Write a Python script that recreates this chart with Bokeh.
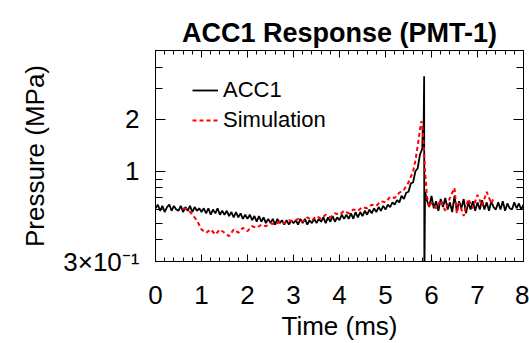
import numpy as np
from bokeh.plotting import figure
from bokeh.models import Range1d, FixedTicker, LinearAxis, LogAxis, CustomJSTickFormatter, Legend, LegendItem
from bokeh.embed import file_html
from bokeh.resources import INLINE

# ---------------- data ----------------
x_ticks = [0, 1, 2, 3, 4, 5, 6, 7, 8]
y_ticks = [0.3, 1, 2]
y_minor_ticks = [0.4, 0.5, 0.6, 0.7, 0.8, 0.9, 3, 4]

# ACC1 measured (ms, MPa), sampled every 0.05 ms before and after the peak
acc1_pre_p = [
    0.61, 0.64, 0.59, 0.63, 0.58, 0.62, 0.64, 0.59, 0.63, 0.60,
    0.59, 0.63, 0.58, 0.62, 0.59, 0.63, 0.58, 0.62, 0.59, 0.61,
    0.58, 0.61, 0.57, 0.61, 0.56, 0.60, 0.57, 0.61, 0.56, 0.59,
    0.56, 0.59, 0.55, 0.58, 0.54, 0.58, 0.54, 0.57, 0.53, 0.56,
    0.53, 0.56, 0.52, 0.55, 0.51, 0.55, 0.51, 0.54, 0.50, 0.53,
    0.50, 0.53, 0.49, 0.53, 0.50, 0.52, 0.49, 0.52, 0.49, 0.52,
    0.50, 0.52, 0.49, 0.53, 0.50, 0.53, 0.49, 0.52, 0.50, 0.53,
    0.50, 0.53, 0.51, 0.54, 0.50, 0.54, 0.51, 0.55, 0.51, 0.54,
    0.52, 0.56, 0.53, 0.56, 0.53, 0.57, 0.53, 0.58, 0.54, 0.58,
    0.55, 0.59, 0.56, 0.60, 0.57, 0.61, 0.58, 0.62, 0.59, 0.63,
    0.60, 0.64, 0.62, 0.66, 0.64, 0.68, 0.66, 0.72, 0.69, 0.75,
    0.76, 0.85, 0.86, 1.00, 1.04, 1.25, 1.35,
]
acc1_peak_t = [5.81, 5.82, 5.83, 5.84, 5.845, 5.86]
acc1_peak_p = [1.80, 1.50, 1.95, 3.55, 0.22, 0.76]
acc1_post_p = [
    0.68, 0.62, 0.72, 0.61, 0.67, 0.59, 0.69, 0.62, 0.70, 0.60,
    0.66, 0.58, 0.72, 0.59, 0.67, 0.61, 0.69, 0.57, 0.66, 0.60,
    0.67, 0.59, 0.66, 0.60, 0.68, 0.60, 0.66, 0.59, 0.67, 0.62,
    0.60, 0.66, 0.60, 0.67, 0.59, 0.65, 0.61, 0.60, 0.66, 0.61,
    0.65, 0.60, 0.64,
]
acc1_pre_t = list(np.round(np.arange(len(acc1_pre_p)) * 0.05, 3))
acc1_post_t = list(np.round(5.90 + np.arange(len(acc1_post_p)) * 0.05, 3))
acc1_t = acc1_pre_t + acc1_peak_t + acc1_post_t
acc1_p = acc1_pre_p + acc1_peak_p + acc1_post_p

# Simulation (ms, MPa)
sim_t = [0.6, 0.7, 0.8, 0.9, 1.0, 1.1, 1.2, 1.3, 1.4, 1.5, 1.6, 1.7, 1.8, 1.9,
         2.0, 2.1, 2.2, 2.3, 2.4, 2.5, 2.6, 2.7, 2.8, 2.9, 3.0, 3.1, 3.2, 3.3,
         3.4, 3.5, 3.6, 3.7, 3.8, 3.9, 4.0, 4.1, 4.2, 4.3, 4.4, 4.5, 4.6, 4.7,
         4.8, 4.9, 5.0, 5.1, 5.2, 5.3, 5.4, 5.5, 5.6, 5.65, 5.7, 5.75, 5.78,
         5.8, 5.83, 5.86, 5.9, 5.95, 6.0, 6.1, 6.2, 6.3, 6.4, 6.5, 6.55, 6.6,
         6.7, 6.8, 6.9, 7.0, 7.1, 7.2, 7.3, 7.35]
sim_p = [0.61, 0.60, 0.56, 0.52, 0.46, 0.44, 0.46, 0.43, 0.46, 0.44, 0.42, 0.46,
         0.44, 0.47, 0.45, 0.48, 0.47, 0.49, 0.48, 0.50, 0.49, 0.51, 0.50, 0.52,
         0.51, 0.53, 0.51, 0.54, 0.52, 0.55, 0.53, 0.56, 0.54, 0.57, 0.56, 0.59,
         0.57, 0.60, 0.59, 0.62, 0.61, 0.64, 0.63, 0.67, 0.66, 0.71, 0.70, 0.75,
         0.78, 0.86, 1.00, 1.15, 1.40, 1.75, 1.95, 1.85, 1.45, 1.00, 0.72, 0.62,
         0.66, 0.61, 0.68, 0.59, 0.70, 0.80, 0.57, 0.66, 0.55, 0.69, 0.61, 0.73,
         0.63, 0.76, 0.65, 0.70]

FONT = "Liberation Sans"

p = figure(width=529, height=343, y_axis_type="log",
           x_range=Range1d(0, 8), y_range=Range1d(0.3, 5.0),
           output_backend="svg", toolbar_location=None,
           min_border_left=155, min_border_right=6,
           min_border_top=50, min_border_bottom=82)

p.background_fill_color = "white"
p.border_fill_color = "white"
p.outline_line_color = "black"
p.xgrid.visible = False
p.ygrid.visible = False

p.title.text = "ACC1 Response (PMT-1)"
p.title.align = "center"
p.title.vertical_align = "top"
p.title.text_font = FONT
p.title.text_font_size = "27px"
p.title.text_font_style = "bold"
p.title.text_color = "black"
p.title.standoff = 2

r1 = p.line(acc1_t, acc1_p, line_color="black", line_width=1.8)
r2 = p.line(sim_t, sim_p, line_color="#ff0000", line_width=2, line_dash="4 3")

x_minor = [round(v * 0.2, 2) for v in range(41)]

blank = CustomJSTickFormatter(code="return '';")

def style_x(ax, labels=True):
    ax.ticker = FixedTicker(ticks=x_ticks, minor_ticks=x_minor)
    ax.major_tick_in = 7
    ax.major_tick_out = 0
    ax.minor_tick_in = 4
    ax.minor_tick_out = 0
    ax.axis_line_color = "black"
    ax.major_tick_line_color = "black"
    ax.minor_tick_line_color = "black"
    if labels:
        ax.major_label_text_font = FONT
        ax.major_label_text_font_size = "26px"
        ax.major_label_text_color = "black"
        ax.major_label_standoff = 24
        ax.axis_label_text_font = FONT
        ax.axis_label_text_font_size = "26px"
        ax.axis_label_text_font_style = "normal"
        ax.axis_label_text_color = "black"
        ax.axis_label_standoff = 4
    else:
        ax.formatter = blank
        ax.major_label_standoff = 0

def style_y(ax, labels=True):
    ax.ticker = FixedTicker(ticks=y_ticks, minor_ticks=y_minor_ticks)
    ax.major_tick_in = 10
    ax.major_tick_out = 0
    ax.minor_tick_in = 7
    ax.minor_tick_out = 0
    ax.axis_line_color = "black"
    ax.major_tick_line_color = "black"
    ax.minor_tick_line_color = "black"
    if labels:
        ax.formatter = CustomJSTickFormatter(code="""
            if (Math.abs(tick - 0.3) < 1e-6) { return '3\u00d710\u207b\u00b9'; }
            return tick.toFixed(0);
        """)
        ax.major_label_text_font = FONT
        ax.major_label_text_font_size = "26px"
        ax.major_label_text_color = "black"
        ax.major_label_standoff = 16
        ax.axis_label_text_font = FONT
        ax.axis_label_text_font_size = "26px"
        ax.axis_label_text_font_style = "normal"
        ax.axis_label_text_color = "black"
        ax.axis_label_standoff = 10
    else:
        ax.formatter = blank
        ax.major_label_standoff = 0

p.xaxis.axis_label = "Time (ms)"
p.yaxis.axis_label = "Pressure (MPa)"
style_x(p.xaxis[0])
style_y(p.yaxis[0])

top_ax = LinearAxis()
style_x(top_ax, labels=False)
p.add_layout(top_ax, "above")
right_ax = LogAxis()
style_y(right_ax, labels=False)
p.add_layout(right_ax, "right")

legend = Legend(items=[LegendItem(label="ACC1", renderers=[r1]),
                       LegendItem(label="Simulation", renderers=[r2])],
                location=(37, 128))
legend.border_line_color = None
legend.background_fill_alpha = 0
legend.label_text_font = FONT
legend.label_text_font_size = "22px"
legend.label_text_color = "black"
legend.glyph_width = 26
legend.glyph_height = 24
legend.label_standoff = 5
legend.spacing = 4
legend.padding = 0
legend.margin = 0
p.add_layout(legend)

open("out.html", "w").write(file_html(p, INLINE))
